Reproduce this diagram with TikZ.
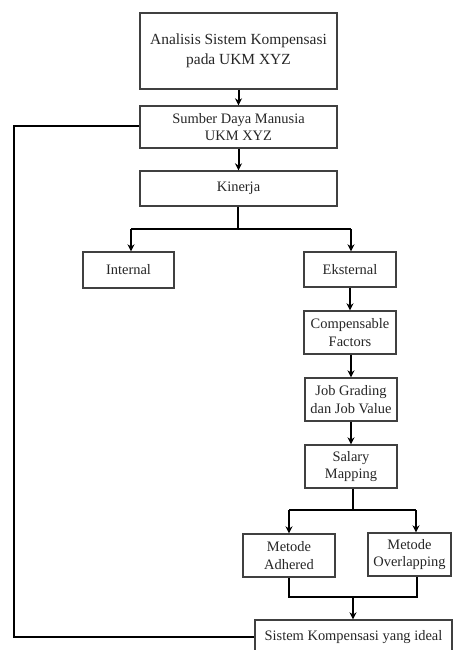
\documentclass[tikz,border=0pt]{standalone}
\usepackage{fontspec}
\setmainfont{Liberation Serif}
\usetikzlibrary{arrows.meta}
\tikzset{
  box/.style={draw=black!75, line width=1.4bp, fill=white, align=center, inner sep=0pt,
    font=\fontsize{14.5}{17.5}\selectfont, text=black!85},
  conn/.style={line width=2bp, black},
  arr/.style={conn, -{Stealth[length=7bp,width=7bp]}}
}
\begin{document}
\begin{tikzpicture}[x=1bp,y=-1bp]
\useasboundingbox (0,0) rectangle (453,650);
\clip (0,0) rectangle (453,650);
% nodes
\node[box, minimum width=197bp, minimum height=76bp, font=\fontsize{15.5}{20}\selectfont] (a) at (238.5,51) {Analisis Sistem Kompensasi\\pada UKM XYZ};
\node[box, minimum width=197bp, minimum height=42bp] (sdm) at (238.5,127) {Sumber Daya Manusia\\UKM XYZ};
\node[box, minimum width=197bp, minimum height=35bp] (kin) at (238.5,188.5) {Kinerja};
\node[box, minimum width=91bp, minimum height=36bp] (int) at (128.5,270) {Internal};
\node[box, minimum width=92bp, minimum height=35bp] (eks) at (350,269.5) {Eksternal};
\node[box, minimum width=92bp, minimum height=43bp] (cf) at (350,332.5) {Compensable\\Factors};
\node[box, minimum width=92bp, minimum height=43bp] (jg) at (351,399.5) {Job Grading\\dan Job Value};
\node[box, minimum width=92bp, minimum height=43bp] (sm) at (351,466.5) {Salary\\Mapping};
\node[box, minimum width=92bp, minimum height=43bp] (ad) at (289,555.5) {Metode\\Adhered};
\node[box, minimum width=83bp, minimum height=43bp] (ov) at (409.5,554.5) {Metode\\Overlapping};
\node[box, minimum width=197bp, minimum height=34bp] (sk) at (353.5,637) {Sistem Kompensasi yang ideal};
% coordinates
\coordinate (k1) at (238,229);
\coordinate (kL) at (131,229);
\coordinate (kR) at (351,229);
\coordinate (s1) at (353,510);
\coordinate (sL) at (289,510);
\coordinate (sR) at (416,510);
\coordinate (m1) at (289,597);
\coordinate (m2) at (417,597);
\coordinate (mc) at (353,597);
\coordinate (fb1) at (14,126);
\coordinate (fb2) at (14,637);
% connectors
\draw[arr] (a.south) -- (sdm.north);
\draw[arr] (sdm.south) -- (kin.north);
\draw[conn] (kin.south -| k1) -- (k1);
\draw[conn] (kL) -- (kR);
\draw[arr] (kL) -- (kL |- int.north);
\draw[arr] (kR) -- (kR |- eks.north);
\draw[arr] (eks.south) -- (eks.south |- cf.north);
\draw[arr] (cf.south -| jg.south) -- (jg.north);
\draw[arr] (jg.south) -- (sm.north);
\draw[conn] (sm.south -| s1) -- (s1);
\draw[conn] (sL) -- (sR);
\draw[arr] (sL) -- (sL |- ad.north);
\draw[arr] (sR) -- (sR |- ov.north);
\draw[conn] (ad.south -| m1) -- (m1) -- (m2) -- (m2 |- ov.south);
\draw[arr] (mc) -- (mc |- sk.north);
\draw[conn] (sdm.west |- fb1) -- (fb1) -- (fb2) -- (sk.west |- fb2);
\end{tikzpicture}
\end{document}
